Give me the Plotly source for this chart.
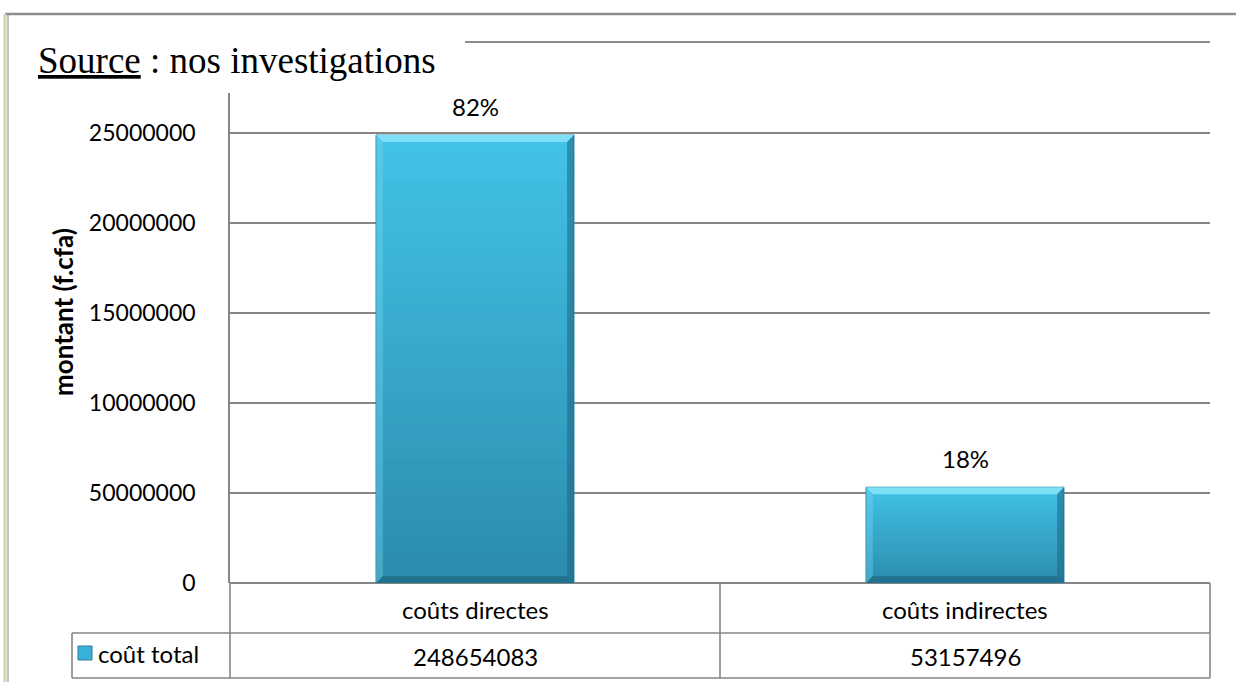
import plotly.graph_objects as go

# Data
categories = ["coûts directes", "coûts indirectes"]
values = [248654083, 53157496]
series_name = "coût total"
tick_vals = [0, 50000000, 100000000, 150000000, 200000000, 250000000]
tick_text = ["0", "50000000", "10000000", "15000000", "20000000", "25000000"]

total = sum(values)
pct_labels = [f"{round(v / total * 100)}%" for v in values]

FONT = "Lato"
GRID = "#868686"

# Plot geometry (pixels) used to place paper-referenced decorations
W, H = 1236, 682
L, R, T, B = 230, 26, 93, 99
PW, PH = W - L - R, H - T - B


def px(x):
    return (x - L) / PW


def py(y):
    return (H - B - y) / PH


fig = go.Figure()

# Vertical gradient on each bar: nested bars from the full value downwards,
# each shorter one drawn on top in a darker tone
n_bands = 40
top_rgb = (0x42, 0xC2, 0xE7)
bot_rgb = (0x2B, 0x8B, 0xAC)
bar_w = 0.404
for i in range(n_bands):
    frac = (n_bands - i) / n_bands
    col = tuple(round(bot_rgb[k] + (top_rgb[k] - bot_rgb[k]) * frac) for k in range(3))
    fig.add_trace(go.Bar(
        x=categories,
        y=[v * frac for v in values],
        width=bar_w,
        marker=dict(color="rgb(%d,%d,%d)" % col, line=dict(width=0)),
        showlegend=False,
        hoverinfo="skip",
    ))

# Outline of the bars
fig.add_trace(go.Bar(
    x=categories,
    y=values,
    width=bar_w,
    name=series_name,
    marker=dict(color="rgba(0,0,0,0)", line=dict(color="#2A7E9C", width=1)),
    showlegend=False,
))

shapes = []
# Bevel edges on the bars
dx = 0.014
unit = (tick_vals[-1] - tick_vals[0]) / 450.0  # data units per pixel
dh = 7 * unit
for i, v in enumerate(values):
    x0, x1 = i - bar_w / 2, i + bar_w / 2
    shapes.append(dict(type="path", xref="x", yref="y",
                       path=f"M {x0},{v} L {x1},{v} L {x1-dx},{v-dh} L {x0+dx},{v-dh} Z",
                       fillcolor="#7EE0F6", line=dict(width=0), layer="above"))
    shapes.append(dict(type="path", xref="x", yref="y",
                       path=f"M {x1},{v} L {x1},0 L {x1-dx},{dh} L {x1-dx},{v-dh} Z",
                       fillcolor="rgba(30,100,130,0.55)", line=dict(width=0), layer="above"))
    shapes.append(dict(type="path", xref="x", yref="y",
                       path=f"M {x0},{v} L {x0},0 L {x0+dx},{dh} L {x0+dx},{v-dh} Z",
                       fillcolor="rgba(120,220,245,0.35)", line=dict(width=0), layer="above"))
    shapes.append(dict(type="path", xref="x", yref="y",
                       path=f"M {x0},0 L {x1},0 L {x1-dx},{dh} L {x0+dx},{dh} Z",
                       fillcolor="rgba(25,95,120,0.55)", line=dict(width=0), layer="above"))

# Data table under the axis
line_style = dict(color=GRID, width=1.6)
for xv in (230, 720, 1210):
    shapes.append(dict(type="line", xref="paper", yref="paper",
                       x0=px(xv), x1=px(xv), y0=py(583), y1=py(678), line=line_style))
shapes.append(dict(type="line", xref="paper", yref="paper",
                   x0=px(72), x1=px(72), y0=py(633), y1=py(678), line=line_style))
for yv in (633, 678):
    shapes.append(dict(type="line", xref="paper", yref="paper",
                       x0=px(72), x1=px(1210), y0=py(yv), y1=py(yv), line=line_style))

# Legend key in the table
shapes.append(dict(type="rect", xref="paper", yref="paper",
                   x0=px(78), x1=px(92), y0=py(660), y1=py(646),
                   fillcolor="#38B2D8", line=dict(color="#2A7E9C", width=1)))

# Frame and header rule
shapes.append(dict(type="line", xref="paper", yref="paper",
                   x0=px(5), x1=px(1236), y0=py(14), y1=py(14),
                   line=dict(color="#8C8C8C", width=2.5)))
shapes.append(dict(type="line", xref="paper", yref="paper",
                   x0=px(5), x1=px(5), y0=py(14), y1=py(682),
                   line=dict(color="#C9D8B0", width=3)))
shapes.append(dict(type="line", xref="paper", yref="paper",
                   x0=px(8), x1=px(8), y0=py(14), y1=py(682),
                   line=dict(color="#9A9A9A", width=1.2)))
shapes.append(dict(type="line", xref="paper", yref="paper",
                   x0=px(465), x1=px(1210), y0=py(42), y1=py(42),
                   line=dict(color="#8C8C8C", width=2)))

TXT = dict(family=FONT, size=24, color="#000000")
annotations = []
for i, (c, v, p) in enumerate(zip(categories, values, pct_labels)):
    cx = (px(230) + px(720)) / 2 if i == 0 else (px(720) + px(1210)) / 2
    annotations.append(dict(x=cx, y=py(609), xref="paper", yref="paper",
                            text=c, showarrow=False, xanchor="center", yanchor="middle",
                            font=TXT))
    annotations.append(dict(x=cx, y=py(656), xref="paper", yref="paper",
                            text=str(v), showarrow=False, xanchor="center", yanchor="middle",
                            font=TXT))
    # percentage label above each bar
    annotations.append(dict(x=c, y=v, xref="x", yref="y", text=p, showarrow=False,
                            xanchor="center", yanchor="bottom", yshift=12, font=TXT))
annotations.append(dict(x=px(96), y=py(653), xref="paper", yref="paper",
                        text=series_name, showarrow=False, xanchor="left", yanchor="middle",
                        font=TXT))
annotations.append(dict(x=px(63), y=py(312), xref="paper", yref="paper",
                        text="<b>montant (f.cfa)</b>", showarrow=False, textangle=-90,
                        xanchor="center", yanchor="middle",
                        font=dict(family=FONT, size=26, color="#000000")))
annotations.append(dict(x=px(36), y=py(60), xref="paper", yref="paper",
                        text="<u>Source</u> : nos investigations", showarrow=False,
                        xanchor="left", yanchor="middle",
                        font=dict(family="Liberation Serif", size=37, color="#000000")))

fig.update_layout(
    width=W, height=H,
    margin=dict(l=L, r=R, t=T, b=B, autoexpand=False),
    paper_bgcolor="white", plot_bgcolor="white",
    barmode="overlay",
    shapes=shapes,
    annotations=annotations,
    xaxis=dict(showticklabels=False, showgrid=False, zeroline=False,
               showline=False, range=[-0.5, 1.5], fixedrange=True),
    yaxis=dict(range=[0, 272e6], tickvals=tick_vals, ticktext=tick_text,
               showgrid=True, gridcolor=GRID, gridwidth=1.6,
               showline=True, linecolor=GRID, linewidth=1.6,
               zeroline=True, zerolinecolor=GRID, zerolinewidth=1.6,
               ticks="", ticklabelstandoff=28,
               tickfont=dict(family=FONT, size=23, color="#000000")),
)

fig.write_html("out.html")
